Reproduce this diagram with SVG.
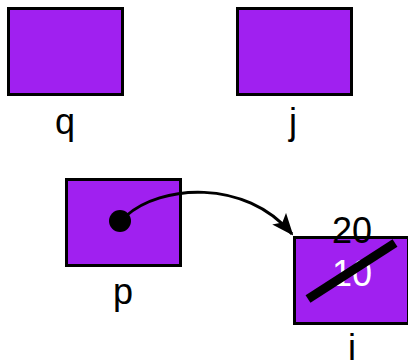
<svg xmlns="http://www.w3.org/2000/svg" width="408" height="362" viewBox="0 0 408 362">
<style>
.box{fill:#A020F0;stroke:#000;stroke-width:3}
.lbl{font-family:"Liberation Sans",Arial,sans-serif;font-size:36px;fill:#000;text-anchor:middle}
.val{font-family:"Liberation Sans",Arial,sans-serif;font-size:36px;text-anchor:middle}
</style>
<defs>
<marker id="ah" markerWidth="22" markerHeight="18" refX="20" refY="9" orient="auto" markerUnits="userSpaceOnUse">
<path d="M0,0 L22,9 L0,18 L5,9 Z" fill="#000"/>
</marker>
</defs>
<rect width="408" height="362" fill="#fff"/>
<g id="q">
<rect class="box" x="8.5" y="8.5" width="114" height="86"/>
<text class="lbl" x="65" y="134">q</text>
</g>
<g id="j">
<rect class="box" x="237.5" y="8.5" width="114" height="86"/>
<text class="lbl" x="293" y="134">j</text>
</g>
<g id="p">
<rect class="box" x="66.5" y="179.5" width="114" height="86"/>
<circle cx="120" cy="221" r="11" fill="#000"/>
<text class="lbl" x="123" y="304">p</text>
</g>
<g id="i">
<rect class="box" x="294.5" y="237.5" width="114" height="86"/>
<text class="val" x="352" y="243" fill="#000">20</text>
<text class="val" x="352" y="286" fill="#fff">10</text>
<line x1="308" y1="299" x2="395" y2="243" stroke="#000" stroke-width="9"/>
<text class="lbl" x="352" y="360">i</text>
</g>
<g id="connectors">
<path d="M126,216 C160,185 245,178 292,234" fill="none" stroke="#000" stroke-width="3" marker-end="url(#ah)"/>
</g>
</svg>
